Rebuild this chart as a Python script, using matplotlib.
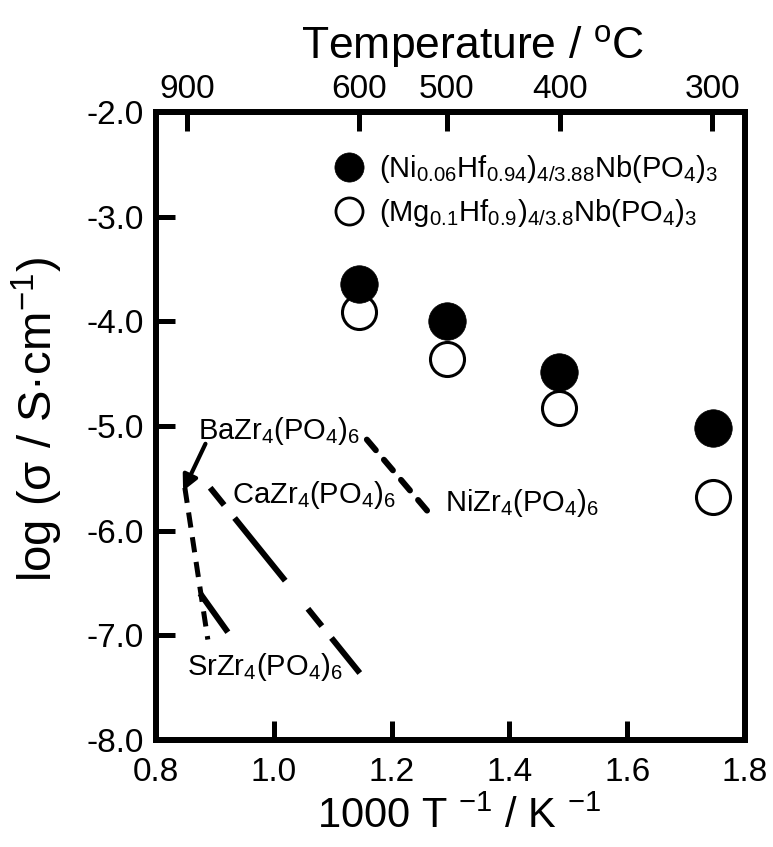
import numpy as np
import matplotlib
matplotlib.use("Agg")
import matplotlib.pyplot as plt
from matplotlib.lines import Line2D
from matplotlib.ticker import FormatStrFormatter

plt.rcParams['font.family'] = ['Liberation Sans', 'DejaVu Sans']
plt.rcParams['mathtext.fontset'] = 'custom'
plt.rcParams['mathtext.rm'] = 'Liberation Sans'
plt.rcParams['mathtext.it'] = 'Liberation Sans:italic'
plt.rcParams['mathtext.bf'] = 'Liberation Sans:bold'
plt.rcParams['axes.unicode_minus'] = False
plt.rcParams['lines.scale_dashes'] = False

# measured points, 1000/T (K^-1) vs log sigma
inv_t = [1.145, 1.294, 1.485, 1.745]
log_sigma_ni = [-3.64, -4.00, -4.48, -5.02]
log_sigma_mg = [-3.91, -4.36, -4.83, -5.68]

# literature lines (end points)
ba_x = [0.849, 0.888]
ba_y = [-5.59, -7.04]
sr_x = [0.875, 0.922]
sr_y = [-6.60, -6.97]
ca_x = [0.892, 1.146]
ca_y = [-5.59, -7.36]
ni_x = [1.158, 1.262]
ni_y = [-5.13, -5.82]

x_ticks = [0.8, 1.0, 1.2, 1.4, 1.6, 1.8]
y_ticks = [-2.0, -3.0, -4.0, -5.0, -6.0, -7.0, -8.0]
temp_ticks = [900, 600, 500, 400, 300]

label_ni = r"(Ni$_{0.06}$Hf$_{0.94}$)$_{4/3.88}$Nb(PO$_4$)$_3$"
label_mg = r"(Mg$_{0.1}$Hf$_{0.9}$)$_{4/3.8}$Nb(PO$_4$)$_3$"

fig = plt.figure(figsize=(7.73, 8.47), dpi=100)
ax = fig.add_axes([0.2018, 0.1263, 0.762, 0.7415])

# literature lines
ax.plot(ba_x, ba_y, color='black', lw=3.6, dashes=(11, 7), dash_capstyle='butt')
ax.plot(sr_x, sr_y, color='black', lw=4.3, solid_capstyle='butt')
ax.plot(ca_x, ca_y, color='black', lw=4.3, dashes=(16, 12, 58, 26, 16, 11, 40, 40), dash_capstyle='butt')
ax.plot(ni_x, ni_y, color='black', lw=4.3, dashes=(10, 9), dash_capstyle='round')

# Ba arrow
ax.annotate("", xy=(0.846, -5.62), xytext=(0.884, -5.17),
            arrowprops=dict(arrowstyle='-|>,head_length=0.9,head_width=0.45', lw=3.0, color='black',
                            shrinkA=0, shrinkB=0))

# data points (open first so filled sit on top)
ax.plot(inv_t, log_sigma_mg, 'o', ms=24.5, mfc='white', mec='black', mew=2.2, zorder=3)
ax.plot(inv_t, log_sigma_ni, 'o', ms=27, mfc='black', mec='black', mew=0.5, zorder=4)

txt_kw = dict(fontsize=21, va='center', ha='left')
ax.text(0.871, -5.05, r"BaZr$_4$(PO$_4$)$_6$", **txt_kw)
ax.text(0.929, -5.66, r"CaZr$_4$(PO$_4$)$_6$", **txt_kw)
ax.text(1.291, -5.74, r"NiZr$_4$(PO$_4$)$_6$", **txt_kw)
ax.text(0.853, -7.30, r"SrZr$_4$(PO$_4$)$_6$", **txt_kw)

handles = [Line2D([], [], ls='none', marker='o', ms=21, mfc='black', mec='black', mew=0.5),
           Line2D([], [], ls='none', marker='o', ms=19.5, mfc='white', mec='black', mew=2.0)]
ax.legend(handles, [label_ni, label_mg], loc='upper left', bbox_to_anchor=(0.305, 0.935),
          frameon=False, fontsize=21, handlelength=0.9, handletextpad=0.6,
          borderpad=0, borderaxespad=0, labelspacing=0.42)

ax.set_xlim(0.8, 1.8)
ax.set_ylim(-8.0, -2.0)
ax.set_xticks(x_ticks)
ax.set_yticks(y_ticks)
ax.xaxis.set_major_formatter(FormatStrFormatter('%.1f'))
ax.yaxis.set_major_formatter(FormatStrFormatter('%.1f'))
ax.tick_params(axis='both', direction='in', length=14, width=3.6, labelsize=24, pad=9)
ax.tick_params(axis='x', pad=12)
for sp in ax.spines.values():
    sp.set_linewidth(4.2)

ax.set_xlabel("1000 T $^{-1}$ / K $^{-1}$", fontsize=30)
ax.xaxis.set_label_coords(0.515, -0.09)
ax.set_ylabel("log (σ / S·cm$^{-1}$)", fontsize=34)
ax.yaxis.set_label_coords(-0.155, 0.51)

# top axis: temperature in deg C
ax2 = ax.twiny()
ax2.set_xlim(ax.get_xlim())
ax2.set_xticks([1000.0 / (t + 273.15) for t in temp_ticks])
ax2.set_xticklabels([str(t) for t in temp_ticks])
ax2.tick_params(axis='x', direction='in', length=14, width=3.6, labelsize=24, pad=5)
ax2.set_xlabel(r"Temperature / $^{\mathrm{o}}$C", fontsize=32)
ax2.xaxis.set_label_coords(0.537, 1.085)
for sp in ax2.spines.values():
    sp.set_linewidth(4.2)

fig.savefig("out.png", dpi=100)
